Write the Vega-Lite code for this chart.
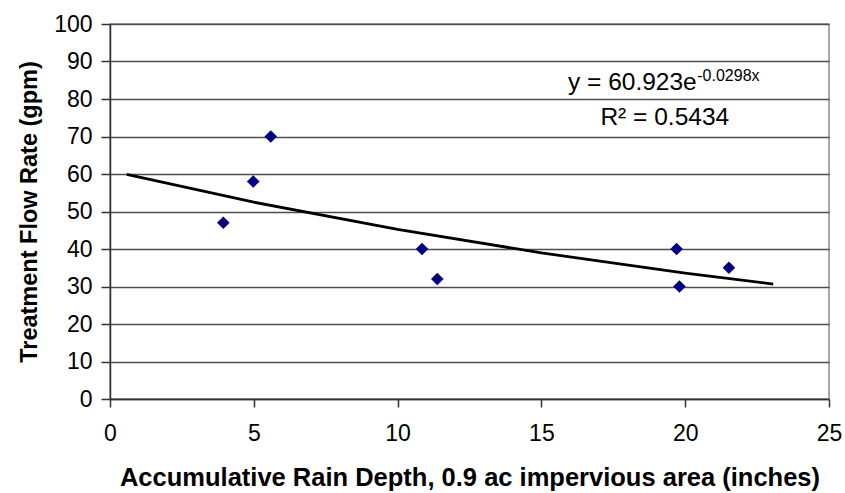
{
  "$schema": "https://vega.github.io/schema/vega-lite/v6.json",
  "autosize": "none",
  "width": 719,
  "height": 375,
  "padding": {"left": 110, "top": 24, "right": 16, "bottom": 94},
  "background": "white",
  "config": {
    "font": "Liberation Sans",
    "view": {"stroke": "#8c8c8c", "strokeWidth": 1.5},
    "axis": {
      "labelFont": "Liberation Sans",
      "titleFont": "Liberation Sans",
      "labelColor": "#000000",
      "titleColor": "#000000",
      "domainColor": "#333333",
      "tickColor": "#333333",
      "domainWidth": 1.5,
      "tickWidth": 1.5,
      "labelOverlap": false,
      "labelFlush": false
    }
  },
  "datasets": {
    "obs": [
      {"depth": 3.94, "flow": 47},
      {"depth": 4.98, "flow": 58},
      {"depth": 5.59, "flow": 70},
      {"depth": 10.85, "flow": 40},
      {"depth": 11.38, "flow": 32},
      {"depth": 19.7, "flow": 40},
      {"depth": 19.8, "flow": 30},
      {"depth": 21.52, "flow": 35}
    ],
    "trend": [
      {"depth": 0.58, "flow": 59.87},
      {"depth": 5, "flow": 52.49},
      {"depth": 10, "flow": 45.22},
      {"depth": 15, "flow": 38.96},
      {"depth": 20, "flow": 33.57},
      {"depth": 23.06, "flow": 30.64}
    ],
    "notes": [
      {"depth": 20.4, "flow": 82.4, "label": "y = 60.923e", "kind": "main", "align": "right"},
      {"depth": 20.42, "flow": 84.8, "label": "-0.0298x", "kind": "sup", "align": "left"},
      {"depth": 19.29, "flow": 73.0, "label": "R² = 0.5434", "kind": "main", "align": "center"}
    ]
  },
  "layer": [
    {
      "data": {"name": "trend"},
      "mark": {"type": "line", "color": "#000000", "strokeWidth": 2.8},
      "encoding": {
        "x": {
          "field": "depth", "type": "quantitative",
          "scale": {"domain": [0, 25], "nice": false},
          "axis": {
            "values": [0, 5, 10, 15, 20, 25],
            "grid": false,
            "tickSize": 8,
            "labelFontSize": 23,
            "labelPadding": 15,
            "title": "Accumulative Rain Depth, 0.9 ac impervious area (inches)",
            "titleFontSize": 25.5,
            "titleFontWeight": "bold",
            "titlePadding": 20
          }
        },
        "y": {
          "field": "flow", "type": "quantitative",
          "scale": {"domain": [0, 100], "nice": false},
          "axis": {
            "values": [0, 10, 20, 30, 40, 50, 60, 70, 80, 90, 100],
            "tickCount": 11,
            "grid": true,
            "gridColor": "#4d4d4d",
            "gridWidth": 1.3,
            "gridOpacity": 1,
            "tickSize": 9,
            "labelFontSize": 23,
            "labelPadding": 9,
            "title": "Treatment Flow Rate (gpm)",
            "titleFontSize": 23.5,
            "titleFontWeight": "bold",
            "titlePadding": 12
          }
        }
      }
    },
    {
      "data": {"name": "obs"},
      "mark": {"type": "point", "shape": "diamond", "filled": true, "color": "#000080", "size": 160, "opacity": 1},
      "encoding": {
        "x": {"field": "depth", "type": "quantitative"},
        "y": {"field": "flow", "type": "quantitative"}
      }
    },
    {
      "data": {"name": "notes"},
      "transform": [{"filter": "datum.kind === 'main' && datum.align === 'right'"}],
      "mark": {"type": "text", "align": "right", "baseline": "alphabetic", "fontSize": 24.5, "color": "#000000"},
      "encoding": {
        "x": {"field": "depth", "type": "quantitative"},
        "y": {"field": "flow", "type": "quantitative"},
        "text": {"field": "label"}
      }
    },
    {
      "data": {"name": "notes"},
      "transform": [{"filter": "datum.kind === 'main' && datum.align === 'center'"}],
      "mark": {"type": "text", "align": "center", "baseline": "alphabetic", "fontSize": 24.5, "color": "#000000"},
      "encoding": {
        "x": {"field": "depth", "type": "quantitative"},
        "y": {"field": "flow", "type": "quantitative"},
        "text": {"field": "label"}
      }
    },
    {
      "data": {"name": "notes"},
      "transform": [{"filter": "datum.kind === 'sup'"}],
      "mark": {"type": "text", "align": "left", "baseline": "alphabetic", "fontSize": 16, "color": "#000000"},
      "encoding": {
        "x": {"field": "depth", "type": "quantitative"},
        "y": {"field": "flow", "type": "quantitative"},
        "text": {"field": "label"}
      }
    }
  ]
}
